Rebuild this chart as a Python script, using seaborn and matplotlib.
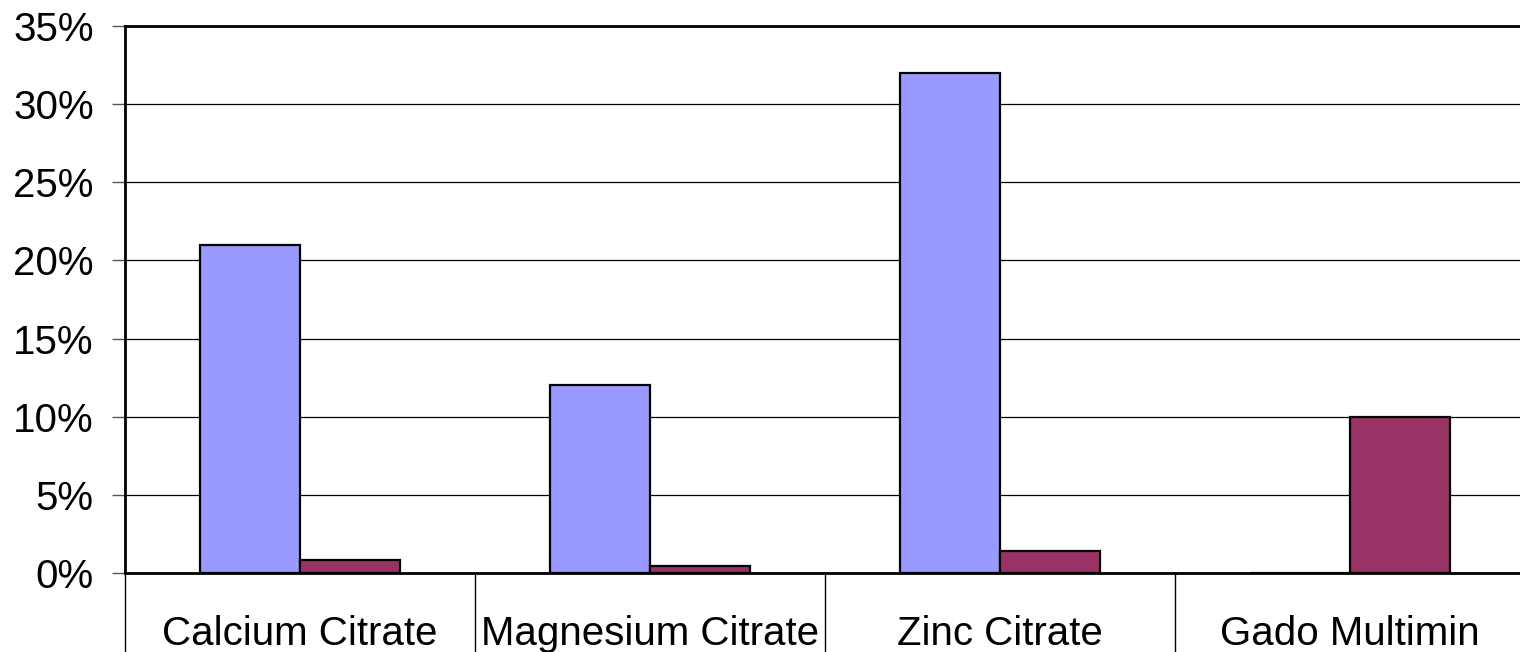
import numpy as np
import pandas as pd
import matplotlib
matplotlib.use("Agg")
import matplotlib.pyplot as plt
import seaborn as sns

# values (percent)
products = ["Calcium Citrate", "Magnesium Citrate", "Zinc Citrate", "Gado Multimin"]
series_a = [21.0, 12.0, 32.0, 0.0]
series_b = [0.8, 0.45, 1.4, 10.0]
y_ticks = [0, 5, 10, 15, 20, 25, 30, 35]

sns.set_theme(style="white")
plt.rcParams['font.family'] = ['Liberation Sans', 'DejaVu Sans']
plt.rcParams['text.color'] = 'black'
plt.rcParams['xtick.color'] = 'black'
plt.rcParams['ytick.color'] = 'black'

df = pd.DataFrame({
    "Product": products * 2,
    "Series": ["A"] * len(products) + ["B"] * len(products),
    "Value": series_a + series_b,
})

fig = plt.figure(figsize=(15.2, 6.52), dpi=100)
# plot area runs a little past the right edge, like the original
ax = fig.add_axes([125 / 1520, 1 - 573 / 652, 1400 / 1520, (573 - 26) / 652])

sns.barplot(data=df, x="Product", y="Value", hue="Series",
            palette={"A": "#9999FF", "B": "#993366"}, saturation=1,
            width=0.572, edgecolor="black", linewidth=1.6,
            legend=False, ax=ax)

ax.set_ylim(0, 35)
ax.set_xlim(-0.5, len(products) - 0.5)
ax.set_yticks(y_ticks)
ax.set_yticklabels([f"{t}%" for t in y_ticks], fontsize=29)
ax.yaxis.grid(True, color="black", linewidth=0.9)
ax.set_axisbelow(True)
ax.set_xlabel("")
ax.set_ylabel("")
ax.tick_params(axis="y", length=9.5, width=1, color="#555555", pad=13,
               left=True, labelcolor="black")
ax.tick_params(axis="x", length=0, pad=30, labelsize=29, labelcolor="black")

for side in ["top", "left", "bottom"]:
    ax.spines[side].set_color("black")
    ax.spines[side].set_linewidth(2)
ax.spines["right"].set_visible(False)

# category separators that hang below the axis
for xb in np.arange(-0.5, len(products) - 0.5, 1.0):
    ax.plot([xb, xb], [0, -0.15], transform=ax.get_xaxis_transform(),
            color="black", linewidth=1, clip_on=False)

fig.savefig("out.png", dpi=100)
